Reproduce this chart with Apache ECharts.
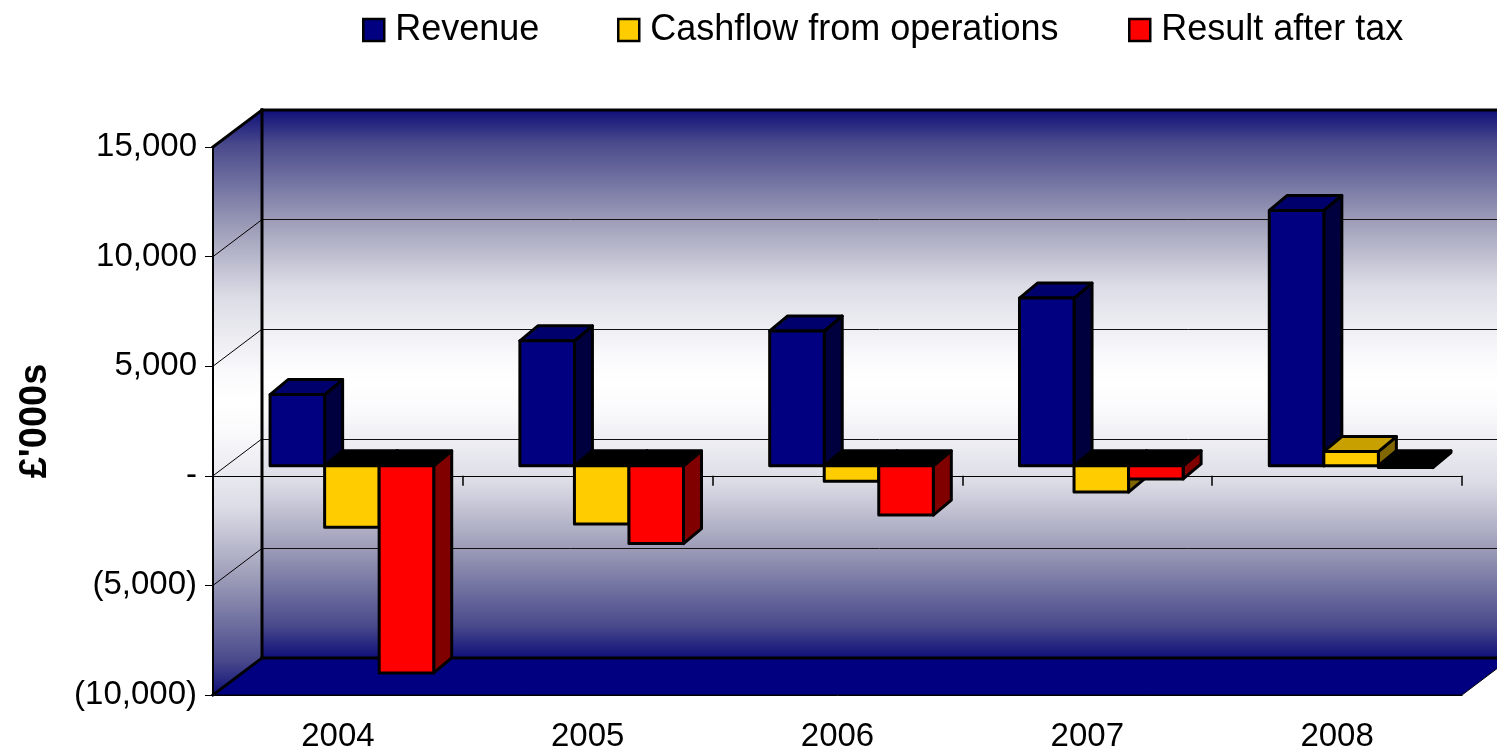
<!DOCTYPE html>
<html>
<head>
<meta charset="utf-8">
<script src="https://cdn.jsdelivr.net/npm/echarts@6/dist/echarts.min.js"></script>
<style>
  body { margin: 0; background: #fff; }
  #main { width: 1497px; height: 754px; }
</style>
</head>
<body>
<div id="main"></div>
<script>
var categories = ["2004", "2005", "2006", "2007", "2008"];
var revenue = [3250, 5700, 6150, 7650, 11650];
var cashflow = [-2800, -2650, -700, -1200, 650];
var resultAfterTax = [-9450, -3550, -2250, -600, -80];
var seriesNames = ["Revenue", "Cashflow from operations", "Result after tax"];
var yMin = -10000;
var yMax = 15000;
var yStep = 5000;

// layout of the fake 3d box
var FRONT = { left: 213, top: 147, width: 1249, height: 548 };
var DEPTH_X = 49, DEPTH_Y = -37;     // back wall offset
var BAR_X = 14, BAR_Y = -10;         // plane of the bars
var SIDE_X = 18, SIDE_Y = -15;       // depth of a bar
var FONT = '"Liberation Sans", Arial, sans-serif';

var wallStops = [
  { offset: 0, color: "#0f0f7a" },
  { offset: 0.06, color: "#4a4a8c" },
  { offset: 0.2, color: "#9c9cb8" },
  { offset: 0.32, color: "#dcdce6" },
  { offset: 0.45, color: "#fafafc" },
  { offset: 0.5, color: "#ffffff" },
  { offset: 0.55, color: "#fafafc" },
  { offset: 0.68, color: "#dcdce6" },
  { offset: 0.8, color: "#9c9cb8" },
  { offset: 0.94, color: "#4a4a8c" },
  { offset: 1, color: "#0f0f7a" },
];

function formatAxis(v) {
  if (v === 0) return "-";
  var s = Math.abs(v).toString().replace(/(\d)(?=(\d{3})+(?!\d))/g, "$1,");
  return v < 0 ? "(" + s + ")" : s;
}

function makeRender(s, front, top, side) {
  return function (params, api) {
    var i = api.value(0);
    var v = api.value(1);
    var base = api.coord([i, 0]);
    var end = api.coord([i, v]);
    var band = api.size([1, 0])[0];
    var groupW = band * 0.655;
    var w = groupW / 3;
    var x0 = base[0] - groupW / 2 + s * w;
    var yT = Math.min(base[1], end[1]);
    var yB = Math.max(base[1], end[1]);
    var st = { stroke: "#000", lineWidth: 3, lineJoin: "round" };
    return {
      type: "group",
      children: [
        {
          type: "polygon",
          shape: { points: [[x0 + w, yT], [x0 + w + SIDE_X, yT + SIDE_Y], [x0 + w + SIDE_X, yB + SIDE_Y], [x0 + w, yB]] },
          style: Object.assign({ fill: side }, st),
        },
        {
          type: "polygon",
          shape: { points: [[x0, yT], [x0 + SIDE_X, yT + SIDE_Y], [x0 + w + SIDE_X, yT + SIDE_Y], [x0 + w, yT]] },
          style: Object.assign({ fill: v >= 0 ? top : "#000" }, st),
        },
        {
          type: "rect",
          shape: { x: x0, y: yT, width: w, height: yB - yT },
          style: Object.assign({ fill: front }, st),
        },
      ],
    };
  };
}

function toData(arr) {
  return arr.map(function (v, i) {
    return [i, v];
  });
}

function legendAt(name, left) {
  return {
    data: [name],
    left: left,
    top: 7,
    icon: "rect",
    itemWidth: 21,
    itemHeight: 22,
    itemStyle: { borderColor: "#000", borderWidth: 2.5 },
    textStyle: { fontFamily: FONT, fontSize: 36, color: "#000", padding: [0, 0, 0, 6] },
  };
}

var chart = echarts.init(document.getElementById("main"));

var option = {
  animation: false,
  legend: [
    legendAt(seriesNames[0], 357),
    legendAt(seriesNames[1], 612),
    legendAt(seriesNames[2], 1123),
  ],
  grid: [
    { left: FRONT.left, top: FRONT.top, width: FRONT.width, height: FRONT.height },
    { left: FRONT.left + BAR_X, top: FRONT.top + BAR_Y, width: FRONT.width, height: FRONT.height },
    { left: FRONT.left + DEPTH_X, top: FRONT.top + DEPTH_Y, width: FRONT.width + 1, height: FRONT.height },
  ],
  xAxis: [
    {
      type: "category",
      gridIndex: 0,
      data: categories,
      z: 3,
      axisLine: { onZero: true, lineStyle: { color: "#000", width: 1 } },
      axisTick: { show: true, inside: false, length: 10, lineStyle: { color: "#000", width: 1.5 } },
      axisLabel: { show: false },
    },
    {
      type: "category",
      gridIndex: 0,
      position: "bottom",
      data: categories,
      z: 3,
      axisLine: { onZero: false, lineStyle: { color: "#000", width: 1 } },
      axisTick: { length: 9, lineStyle: { color: "#000" } },
      axisLabel: { fontFamily: FONT, fontSize: 33, color: "#000", margin: 25 },
    },
    { type: "category", gridIndex: 1, data: categories, show: false },
    { type: "value", gridIndex: 2, min: 0, max: 1, show: false },
  ],
  yAxis: [
    {
      type: "value",
      gridIndex: 0,
      min: yMin,
      max: yMax,
      interval: yStep,
      z: 3,
      name: "£'000s",
      nameLocation: "middle",
      nameGap: 158,
      nameTextStyle: { fontFamily: FONT, fontSize: 38, fontWeight: "bold", color: "#000" },
      axisLine: { show: true, lineStyle: { color: "#000", width: 2 } },
      axisTick: { show: true, length: 8, lineStyle: { color: "#000" } },
      axisLabel: { formatter: formatAxis, fontFamily: FONT, fontSize: 33, color: "#000", margin: 16 },
      splitLine: { show: false },
    },
    { type: "value", gridIndex: 1, min: yMin, max: yMax, interval: yStep, show: false },
    {
      type: "value",
      gridIndex: 2,
      min: yMin,
      max: yMax,
      interval: yStep,
      z: 3,
      axisLine: { show: false },
      axisTick: { show: false },
      axisLabel: { show: false },
      splitLine: { show: true, lineStyle: { color: "#111", width: 1 } },
    },
  ],
  series: [
    {
      name: seriesNames[0],
      type: "custom",
      xAxisIndex: 2,
      yAxisIndex: 1,
      z: 10,
      itemStyle: { color: "#000080", borderColor: "#000", borderWidth: 2 },
      renderItem: makeRender(0, "#000080", "#00006c", "#00003e"),
      encode: { x: 0, y: 1 },
      data: toData(revenue),
    },
    {
      name: seriesNames[1],
      type: "custom",
      xAxisIndex: 2,
      yAxisIndex: 1,
      z: 10,
      itemStyle: { color: "#ffcc00", borderColor: "#000", borderWidth: 2 },
      renderItem: makeRender(1, "#ffcc00", "#c8a000", "#806600"),
      encode: { x: 0, y: 1 },
      data: toData(cashflow),
    },
    {
      name: seriesNames[2],
      type: "custom",
      xAxisIndex: 2,
      yAxisIndex: 1,
      z: 10,
      itemStyle: { color: "#ff0000", borderColor: "#000", borderWidth: 2 },
      renderItem: makeRender(2, "#ff0000", "#cc0000", "#800000"),
      encode: { x: 0, y: 1 },
      data: toData(resultAfterTax),
    },
  ],
};

chart.setOption(option);

// walls and floor, placed with the axes' own scale
var fl = FRONT.left, fr = FRONT.left + FRONT.width;
var bl = fl + DEPTH_X, br = fr + DEPTH_X;
var fTop = chart.convertToPixel({ yAxisIndex: 0 }, yMax);
var fBot = chart.convertToPixel({ yAxisIndex: 0 }, yMin);
var bTop = chart.convertToPixel({ yAxisIndex: 2 }, yMax);
var bBot = chart.convertToPixel({ yAxisIndex: 2 }, yMin);

var grad = { type: "linear", x: 0, y: 0, x2: 0, y2: 1, colorStops: wallStops };
var elements = [
  { type: "rect", z: 1, shape: { x: bl, y: bTop, width: br - bl, height: bBot - bTop }, style: { fill: grad } },
  { type: "polygon", z: 1, shape: { points: [[fl, fTop], [bl, bTop], [bl, bBot], [fl, fBot]] }, style: { fill: grad } },
  {
    type: "polygon",
    z: 1,
    shape: { points: [[fl, fBot], [fr, fBot], [br, bBot], [bl, bBot]] },
    style: { fill: "#000080", stroke: "#000", lineWidth: 1 },
  },
];
for (var v = yMin + yStep; v < yMax; v += yStep) {
  elements.push({
    type: "line",
    z: 4,
    shape: {
      x1: fl,
      y1: chart.convertToPixel({ yAxisIndex: 0 }, v),
      x2: bl,
      y2: chart.convertToPixel({ yAxisIndex: 2 }, v),
    },
    style: { stroke: "#000", lineWidth: 1 },
  });
}
[
  [fl, fTop, bl, bTop],
  [fl, fBot, bl, bBot],
  [bl, bTop, br, bTop],
  [bl, bBot, br, bBot],
  [bl, bTop, bl, bBot],
].forEach(function (e) {
  elements.push({
    type: "line",
    z: 5,
    shape: { x1: e[0], y1: e[1], x2: e[2], y2: e[3] },
    style: { stroke: "#000", lineWidth: 3, lineCap: "square" },
  });
});

chart.setOption({ graphic: { elements: elements } });
</script>
</body>
</html>
